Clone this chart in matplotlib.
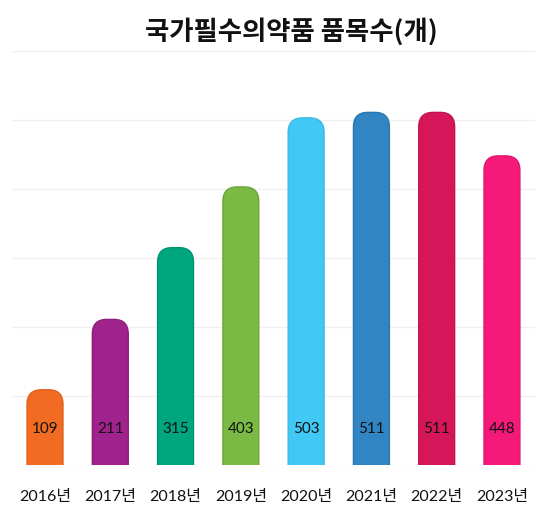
import matplotlib.pyplot as plt
from matplotlib.patches import FancyBboxPatch

plt.rcParams["font.family"] = ["Lato", "Noto Sans CJK KR", "DejaVu Sans"]

# --- data ---
years = ["2016년", "2017년", "2018년", "2019년", "2020년", "2021년", "2022년", "2023년"]
counts = [109, 211, 315, 403, 503, 511, 511, 448]
colors = ["#F26B22", "#A0228C", "#00A67D", "#7AB943",
          "#41C8F5", "#3185C3", "#D5175A", "#F5197A"]
edges = ["#E0601C", "#8E1E7C", "#009470", "#6DA63A",
         "#3AB8E2", "#2B76AE", "#C01450", "#E0156E"]
title = "국가필수의약품 품목수(개)"

fig = plt.figure(figsize=(5.5, 5.25), dpi=100)
ax = fig.add_axes([0.0225, 0.1143, 0.9495, 0.7886])

ax.set_xlim(-0.5, 7.5)
ax.set_ylim(0, 600)

bar_w = 0.55
r_x = 0.22
aspect = 21 / r_x  # y-units per x-unit for the corner radius

for i, (v, c, e) in enumerate(zip(counts, colors, edges)):
    patch = FancyBboxPatch(
        (i - bar_w / 2, -40), bar_w, v + 40,
        boxstyle=f"round,pad=0,rounding_size={r_x}",
        mutation_aspect=aspect,
        facecolor=c, edgecolor=e, linewidth=1.0, zorder=3,
    )
    ax.add_patch(patch)
    ax.annotate(str(v), xy=(i, 0), xytext=(0, 26), textcoords="offset points",
                ha="center", va="center", fontsize=11, color="#111111", zorder=4)

for y in range(0, 601, 100):
    ax.axhline(y, color="#F0F0F0", linewidth=1.0, zorder=1)

ax.set_xticks(range(len(years)))
ax.set_xticklabels(years, fontsize=11.5, color="#111111")
ax.tick_params(axis="x", length=0, pad=18)
ax.set_yticks([])
for s in ax.spines.values():
    s.set_visible(False)

fig.text(0.529, 0.939, title, ha="center", va="center",
         fontsize=19, fontweight="bold", color="#111111",
         family=["Noto Sans CJK KR", "DejaVu Sans"])

fig.savefig("out.png", dpi=100)
